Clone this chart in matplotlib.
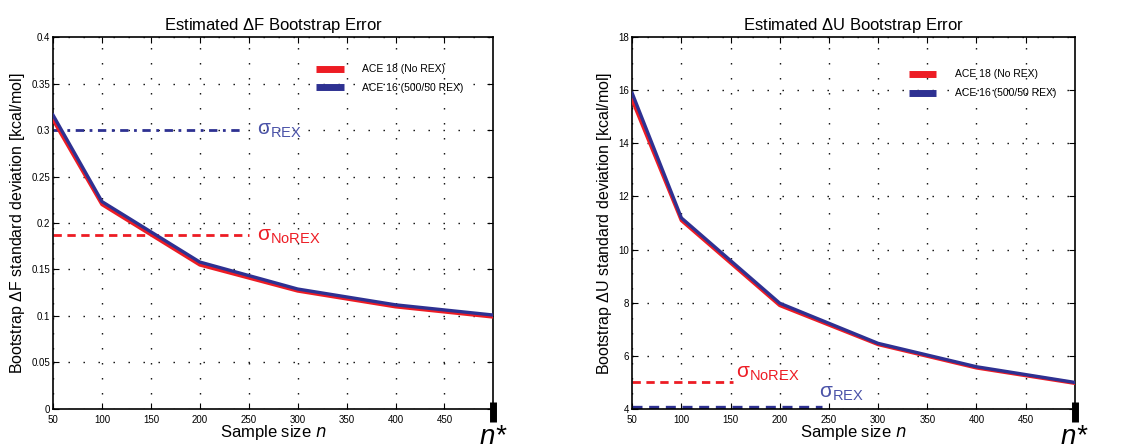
import matplotlib.pyplot as plt
from matplotlib.lines import Line2D
from matplotlib.transforms import blended_transform_factory

plt.rcParams['font.family'] = ['Liberation Sans', 'DejaVu Sans']
plt.rcParams['mathtext.default'] = 'regular'

# data
n = [50, 100, 200, 300, 400, 500]
dF_norex = [0.311, 0.220, 0.155, 0.127, 0.110, 0.099]
dF_rex = [0.316, 0.223, 0.158, 0.129, 0.112, 0.101]
dU_norex = [15.63, 11.10, 7.90, 6.43, 5.55, 4.97]
dU_rex = [15.88, 11.19, 7.98, 6.47, 5.59, 5.00]

sigF_rex, sigF_norex = 0.300, 0.187
sigU_rex, sigU_norex = 4.09, 5.03

red = '#ED1C24'
blue = '#2E3192'
blue_txt = '#4A52A8'

fig = plt.figure(figsize=(11.29, 4.46), dpi=100)
ax1 = fig.add_axes([0.047, 0.083, 0.390, 0.834])
ax2 = fig.add_axes([0.560, 0.083, 0.392, 0.834])

grid_ls = (0, (1, 9.8))


def style_axes(ax, ylim, yticks):
    ax.set_xlim(50, 500)
    ax.set_ylim(*ylim)
    ax.set_xticks([50, 100, 150, 200, 250, 300, 350, 400, 450])
    ax.set_yticks(yticks)
    ax.tick_params(direction='in', top=True, right=True, labelsize=7, length=4, width=0.8, pad=2)
    ax.tick_params(axis='x', pad=4)
    ax.grid(True, color='black', linestyle=grid_ls, linewidth=1)
    for s in ax.spines.values():
        s.set_linewidth(1.2)
    # n* marker at the end of the axis
    ax.axvline(500, ymin=-0.035, ymax=0.018, color='black', lw=5, clip_on=False, solid_capstyle='butt')
    tr = blended_transform_factory(ax.transData, ax.transAxes)
    ax.text(500, -0.04, '$n$*', transform=tr, fontsize=20, ha='center', va='top',
            style='italic', clip_on=False)
    ax.set_xlabel('Sample size $\\mathit{n}$', fontsize=12, labelpad=-1)


def add_legend(ax, bbox):
    handles = [Line2D([], [], color=red, lw=5, solid_capstyle='butt'),
               Line2D([], [], color=blue, lw=5, solid_capstyle='butt')]
    ax.legend(handles, ['ACE 18 (No REX)', 'ACE 16 (500/50 REX)'], loc='upper left',
              bbox_to_anchor=bbox, frameon=False, fontsize=7.5, handlelength=2.6,
              handletextpad=1.8, labelspacing=0.85)


# left panel: Delta F
ax1.plot(n, dF_norex, color=red, lw=2.6, zorder=3)
ax1.plot(n, dF_rex, color=blue, lw=2.4, zorder=4)
ax1.plot([50, 242], [sigF_rex, sigF_rex], color=blue, lw=2, linestyle=(0, (3, 2, 1, 2)), zorder=2)
ax1.plot([50, 250], [sigF_norex, sigF_norex], color=red, lw=2, linestyle=(0, (3, 2)), zorder=2)
ax1.text(258, sigF_rex, '$\\sigma_{REX}$', color=blue_txt, fontsize=15, va='center')
ax1.text(258, sigF_norex - 0.002, '$\\sigma_{NoREX}$', color=red, fontsize=15, va='center')
style_axes(ax1, (0, 0.4), [0, 0.05, 0.1, 0.15, 0.2, 0.25, 0.3, 0.35, 0.4])
ax1.set_yticklabels(['0', '0.05', '0.1', '0.15', '0.2', '0.25', '0.3', '0.35', '0.4'])
ax1.set_title('Estimated $\\Delta$F Bootstrap Error', fontsize=12, pad=5)
ax1.set_ylabel('Bootstrap $\\Delta$F standard deviation [kcal/mol]', fontsize=11.5, labelpad=3)
add_legend(ax1, (0.577, 0.952))

# right panel: Delta U
ax2.plot(n, dU_norex, color=red, lw=2.6, zorder=3)
ax2.plot(n, dU_rex, color=blue, lw=2.4, zorder=4)
ax2.plot([50, 152], [sigU_norex, sigU_norex], color=red, lw=2, linestyle=(0, (3, 2)), zorder=2)
ax2.plot([50, 243], [sigU_rex, sigU_rex], color=blue, lw=2.4, linestyle=(0, (3, 2)), zorder=2)
ax2.text(156, sigU_norex + 0.3, '$\\sigma_{NoREX}$', color=red, fontsize=15, va='center')
ax2.text(240, sigU_rex + 0.5, '$\\sigma_{REX}$', color=blue_txt, fontsize=15, va='center')
style_axes(ax2, (4, 18), [4, 6, 8, 10, 12, 14, 16, 18])
ax2.set_title('Estimated $\\Delta$U Bootstrap Error', fontsize=12, pad=5)
ax2.set_ylabel('Bootstrap $\\Delta$U standard deviation [kcal/mol]', fontsize=11.5, labelpad=3)
add_legend(ax2, (0.605, 0.938))

fig.savefig('out.png', dpi=100)
